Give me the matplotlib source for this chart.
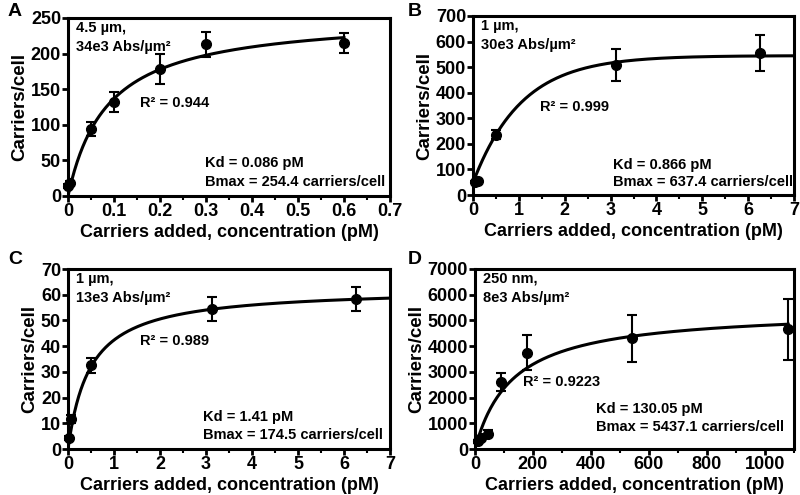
import numpy as np
import matplotlib
matplotlib.use("Agg")
import matplotlib.pyplot as plt
from matplotlib.ticker import MultipleLocator, FuncFormatter

plt.rcParams['font.family'] = ['Liberation Sans', 'DejaVu Sans']
plt.rcParams['font.weight'] = 'bold'

# ---- Panel A data ----
a_x = [0.0, 0.005, 0.05, 0.1, 0.2, 0.3, 0.6]
a_y = [14, 18, 94, 132, 178, 213, 215]
a_err = [3, 3, 10, 14, 21, 18, 14]
a_kd, a_bmax = 0.086, 254.4

# ---- Panel B data ----
b_x = [0.05, 0.1, 0.5, 3.125, 6.25]
b_y = [50, 54, 236, 508, 555]
b_err = [5, 5, 18, 64, 72]
b_y0, b_plateau, b_k = 48, 545, 0.95

# ---- Panel C data ----
c_x = [0.02, 0.07, 0.5, 3.125, 6.25]
c_y = [4.2, 11.8, 32.5, 54.4, 58.3]
c_err = [0.8, 1.5, 3.0, 4.7, 4.6]
c_kd, c_bmax = 0.48, 62.7

# ---- Panel D data ----
d_x = [11, 22, 45, 90, 180, 540, 1080]
d_y = [300, 420, 600, 2600, 3750, 4300, 4650]
d_err = [60, 80, 120, 350, 670, 900, 1200]
d_kd, d_bmax = 130.05, 5437.1

fig = plt.figure(figsize=(8, 4.95), dpi=100)

fmt = FuncFormatter(lambda v, p: '0' if abs(v) < 1e-12 else f'{v:g}')

def style(ax, xlim, ylim, xmaj, ymaj):
    ax.set_xlim(*xlim)
    ax.set_ylim(*ylim)
    ax.xaxis.set_major_locator(MultipleLocator(xmaj))
    ax.xaxis.set_minor_locator(MultipleLocator(xmaj / 2))
    ax.yaxis.set_major_locator(MultipleLocator(ymaj))
    ax.xaxis.set_major_formatter(fmt)
    ax.yaxis.set_major_formatter(fmt)
    for s in ax.spines.values():
        s.set_linewidth(2.2)
    ax.tick_params(which='major', direction='out', length=4, width=2,
                   labelsize=13, pad=1)
    ax.tick_params(which='minor', direction='out', length=3, width=1.5)
    for lab in ax.get_xticklabels() + ax.get_yticklabels():
        lab.set_fontweight('bold')
    ax.set_xlabel('Carriers added, concentration (pM)', fontsize=13,
                  fontweight='bold', labelpad=3)
    ax.set_ylabel('Carriers/cell', fontsize=13.5, fontweight='bold', labelpad=2)

def pts(ax, x, y, e):
    ax.errorbar(x, y, yerr=e, fmt='o', color='black', ms=7, capsize=3.5,
                elinewidth=1.5, capthick=1.5, clip_on=False, zorder=3)

def texts(ax, top, r2, r2pos, kd, bm, kdpos, bmpos):
    ax.text(0.025, 0.985, top, transform=ax.transAxes, fontsize=10.5,
            fontweight='bold', va='top', ha='left', linespacing=1.45)
    ax.text(r2pos[0], r2pos[1], r2, transform=ax.transAxes, fontsize=10.5,
            fontweight='bold', va='center', ha='left')
    ax.text(kdpos[0], kdpos[1], kd, transform=ax.transAxes, fontsize=10.5,
            fontweight='bold', va='center', ha='left')
    ax.text(bmpos[0], bmpos[1], bm, transform=ax.transAxes, fontsize=10.5,
            fontweight='bold', va='center', ha='left')

# A
axA = fig.add_axes([68/800, 1-196/495, 322/800, 178/495])
xa = np.linspace(0, 0.6, 300)
axA.plot(xa, a_bmax * xa / (a_kd + xa), color='black', lw=2.2)
pts(axA, a_x, a_y, a_err)
style(axA, (0, 0.7), (0, 250), 0.1, 50)
texts(axA, '4.5 µm,\n34e3 Abs/µm²', 'R² = 0.944', (0.224, 0.52),
      'Kd = 0.086 pM', 'Bmax = 254.4 carriers/cell', (0.425, 0.185), (0.425, 0.08))

# B
axB = fig.add_axes([473/800, 1-195/495, 321/800, 179/495])
xb = np.linspace(0, 7, 300)
axB.plot(xb, b_y0 + (b_plateau - b_y0) * (1 - np.exp(-b_k * xb)), color='black', lw=2.2)
pts(axB, b_x, b_y, b_err)
style(axB, (0, 7), (0, 700), 1, 100)
texts(axB, '1 µm,\n30e3 Abs/µm²', 'R² = 0.999', (0.21, 0.49),
      'Kd = 0.866 pM', 'Bmax = 637.4 carriers/cell', (0.436, 0.17), (0.436, 0.07))

# C
axC = fig.add_axes([68/800, 1-449/495, 322/800, 180/495])
xc = np.linspace(0, 7, 300)
axC.plot(xc, c_bmax * xc / (c_kd + xc), color='black', lw=2.2)
pts(axC, c_x, c_y, c_err)
style(axC, (0, 7), (0, 70), 1, 10)
texts(axC, '1 µm,\n13e3 Abs/µm²', 'R² = 0.989', (0.224, 0.60),
      'Kd = 1.41 pM', 'Bmax = 174.5 carriers/cell', (0.42, 0.18), (0.42, 0.08))

# D
axD = fig.add_axes([475/800, 1-449/495, 319/800, 180/495])
xd = np.linspace(0, 1080, 300)
axD.plot(xd, d_bmax * xd / (d_kd + xd), color='black', lw=2.2)
pts(axD, d_x, d_y, d_err)
style(axD, (0, 1100), (0, 7000), 200, 1000)
texts(axD, '250 nm,\n8e3 Abs/µm²', 'R² = 0.9223', (0.15, 0.37),
      'Kd = 130.05 pM', 'Bmax = 5437.1 carriers/cell', (0.38, 0.22), (0.38, 0.12))

for lab, x, y in [('A', 8, 12), ('B', 408, 12), ('C', 8, 260), ('D', 408, 260)]:
    fig.text(x/800, 1-y/495, lab, fontsize=14, fontweight='bold', va='center', ha='left')

fig.savefig('out.png', dpi=100)
